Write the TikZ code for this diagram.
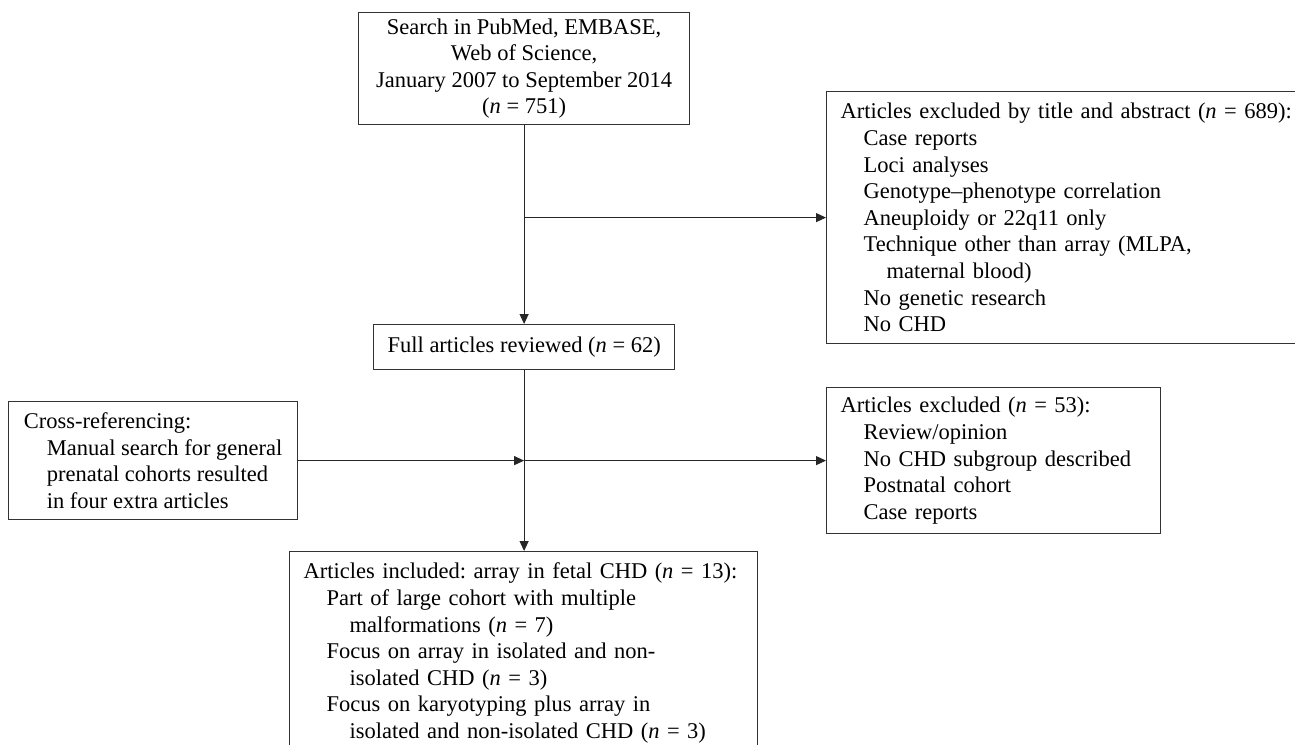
\documentclass[tikz,border=0pt]{standalone}
\usepackage{fontspec}
\setmainfont{Liberation Serif}
\usetikzlibrary{arrows.meta,positioning,calc}
\frenchspacing

\tikzset{
  box/.style={draw=black!80, line width=1.2pt, inner xsep=14pt, inner ysep=0pt,
    anchor=north west, align=left, font=\fontsize{22.5pt}{26.6pt}\selectfont},
  flow/.style={draw=black!85, line width=1.1pt, -{Triangle[length=10pt,width=9pt]}}
}
\newcommand{\inone}{\hspace*{23pt}}
\newcommand{\intwo}{\hspace*{46pt}}

\begin{document}
\begin{tikzpicture}[x=1pt, y=-1pt]
  \useasboundingbox (0,0) rectangle (1295,744);

  % boxes
  \node[box, align=center, minimum width=331pt, minimum height=112pt] (search) at (358,12)
    {Search in PubMed, EMBASE,\\ Web of Science,\\ January 2007 to September 2014\\ (\textit{n} = 751)};
  \node[box, text width=470pt, minimum height=252pt] (excl1) at (826,91)
    {Articles excluded by title and abstract (\textit{n} = 689):\\
     \inone Case reports\\
     \inone Loci analyses\\
     \inone Genotype--phenotype correlation\\
     \inone Aneuploidy or 22q11 only\\
     \inone Technique other than array (MLPA,\\
     \intwo maternal blood)\\
     \inone No genetic research\\
     \inone No CHD};
  \node[box, align=center, minimum width=301pt, minimum height=45pt] (full) at (373,324)
    {Full articles reviewed (\textit{n} = 62)};
  \node[box, minimum width=289pt, minimum height=118pt] (cross) at (8,401)
    {Cross-referencing:\\
     \inone Manual search for general\\
     \inone prenatal cohorts resulted\\
     \inone in four extra articles};
  \node[box, text width=306pt, minimum height=146pt] (excl2) at (826,387)
    {Articles excluded (\textit{n} = 53):\\
     \inone Review/opinion\\
     \inone No CHD subgroup described\\
     \inone Postnatal cohort\\
     \inone Case reports};
  \node[box, text width=440pt, minimum height=203pt] (final) at (289,551)
    {Articles included: array in fetal CHD (\textit{n} = 13):\\
     \inone Part of large cohort with multiple\\
     \intwo malformations (\textit{n} = 7)\\
     \inone Focus on array in isolated and non-\\
     \intwo isolated CHD (\textit{n} = 3)\\
     \inone Focus on karyotyping plus array in\\
     \intwo isolated and non-isolated CHD (\textit{n} = 3)};

  % arrows
  \coordinate (split1) at (search.south |- excl1.west);
  \coordinate (split2) at (search.south |- cross.east);
  \draw[flow] (search.south) -- (full.north -| search.south);
  \draw[flow] (split1) -- (excl1.west);
  \draw[flow] (full.south -| search.south) -- (final.north -| search.south);
  \draw[flow] (cross.east) -- (split2);
  \draw[flow] (split2) -- (excl2.west |- split2);
\end{tikzpicture}
\end{document}
